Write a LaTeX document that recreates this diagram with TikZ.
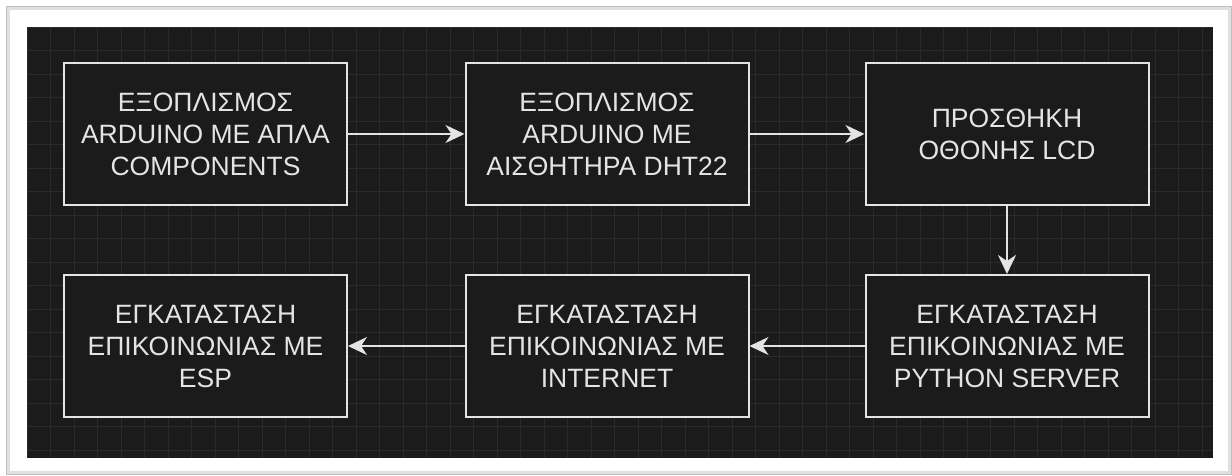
\documentclass[tikz,border=0pt]{standalone}
\usepackage{fontspec}
\setmainfont{Liberation Sans}
\usetikzlibrary{arrows.meta}
\definecolor{canvas}{HTML}{1B1B1B}
\definecolor{gridminor}{HTML}{2A2A2A}
\definecolor{ink}{HTML}{E4E4E4}
\begin{document}
\begin{tikzpicture}[x=1pt,y=-1pt,
  stage/.style={draw=ink,line width=2pt,fill=canvas,text=ink,align=center,
    minimum width=283pt,minimum height=142pt,inner sep=0pt,
    font=\fontsize{26.5}{32}\selectfont},
  flow/.style={draw=ink,line width=2pt,-{Stealth[length=19pt,width=18pt,inset=6pt]}}]
\useasboundingbox (0,0) rectangle (1232,475);
\fill[white] (0,0) rectangle (1232,475);
\draw[black!12,line width=3pt] (8,8) rectangle (1229,472);
\draw[black!25,line width=0.8pt] (6,6) rectangle (1231,474);
\fill[canvas] (27,27) rectangle (1213,458);
\foreach \gx in {0,...,50} {
  \pgfmathsetmacro\px{27+23.5*\gx}
  \ifdim\px pt<1213pt
    \draw[gridminor,line width=0.8pt] (\px,27) -- (\px,458);
  \fi
}
\foreach \gy in {0,...,18} {
  \pgfmathsetmacro\py{27+23.5*\gy}
  \ifdim\py pt<458pt
    \draw[gridminor,line width=0.8pt] (27,\py) -- (1213,\py);
  \fi
}
\node[stage] (arduino) at (205.5,134) {ΕΞΟΠΛΙΣΜΟΣ\\ARDUINO ΜΕ ΑΠΛΑ\\COMPONENTS};
\node[stage] (dht) at (607,134) {ΕΞΟΠΛΙΣΜΟΣ\\ARDUINO ΜΕ\\ΑΙΣΘΗΤΗΡΑ DHT22};
\node[stage] (lcd) at (1007,134) {ΠΡΟΣΘΗΚΗ\\ΟΘΟΝΗΣ LCD};
\node[stage] (python) at (1007,346) {ΕΓΚΑΤΑΣΤΑΣΗ\\ΕΠΙΚΟΙΝΩΝΙΑΣ ΜΕ\\PYTHON SERVER};
\node[stage] (internet) at (607,346) {ΕΓΚΑΤΑΣΤΑΣΗ\\ΕΠΙΚΟΙΝΩΝΙΑΣ ΜΕ\\INTERNET};
\node[stage] (esp) at (205.5,346) {ΕΓΚΑΤΑΣΤΑΣΗ\\ΕΠΙΚΟΙΝΩΝΙΑΣ ΜΕ\\ESP};
\draw[flow] (arduino)--(dht);
\draw[flow] (dht)--(lcd);
\draw[flow] (lcd)--(python);
\draw[flow] (python)--(internet);
\draw[flow] (internet)--(esp);
\end{tikzpicture}
\end{document}
